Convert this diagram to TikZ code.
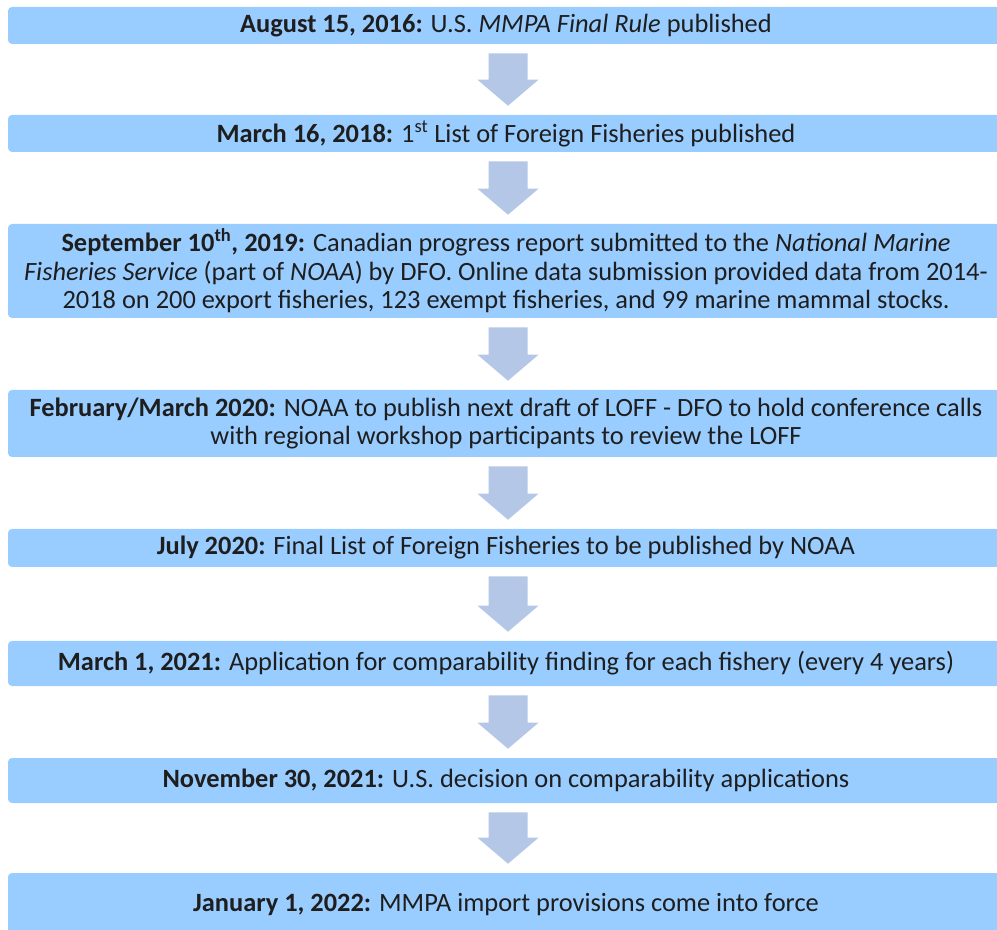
\documentclass[tikz,border=0pt]{standalone}
\usepackage{fontspec}
\setmainfont{Carlito}
\usetikzlibrary{calc}
\definecolor{boxc}{HTML}{99CCFF}
\definecolor{arrc}{HTML}{B4C7E7}
\definecolor{txtc}{HTML}{1E1E1E}
\newcommand\blockarrow[2]{%
  \fill[arrc] ($(#1.south)+(2-19.5,9)$) -- ($(#1.south)+(2+19.5,9)$)
    -- ($(#2.north)+(2+19.5,-35)$) -- ($(#2.north)+(2+30.5,-35)$)
    -- ($(#2.north)+(2,-9)$) -- ($(#2.north)+(2-30.5,-35)$)
    -- ($(#2.north)+(2-19.5,-35)$) -- cycle;}
\begin{document}
\begin{tikzpicture}[x=0.75pt,y=-0.75pt,
  stepbox/.style={fill=boxc, rounded corners=3pt, minimum width=747pt,
    text=txtc, align=center, inner sep=0pt,
    font=\fontsize{19.8}{21.4}\selectfont}]
\useasboundingbox (0,0) rectangle (997,930);
\node[stepbox, minimum height=27.75pt] (b1) at (506,25.5)
  {\textbf{August 15, 2016:} U.S. \textit{MMPA Final Rule} published};
\node[stepbox, minimum height=27.75pt] (b2) at (506,133.5)
  {\textbf{March 16, 2018:} 1\textsuperscript{st} List of Foreign Fisheries published};
\node[stepbox, minimum height=70.5pt] (b3) at (506,271)
  {\textbf{September 10\textsuperscript{th}, 2019:} Canadian progress report submitted to the \textit{National Marine}\\
   \textit{Fisheries Service} (part of \textit{NOAA}) by DFO. Online data submission provided data from 2014-\\
   2018 on 200 export fisheries, 123 exempt fisheries, and 99 marine mammal stocks.};
\node[stepbox, minimum height=50.25pt] (b4) at (506,423.5)
  {\textbf{February/March 2020:} NOAA to publish next draft of LOFF - DFO to hold conference calls\\
   with regional workshop participants to review the LOFF};
\node[stepbox, minimum height=28.5pt] (b5) at (506,548)
  {\textbf{July 2020:} Final List of Foreign Fisheries to be published by NOAA};
\node[stepbox, minimum height=33.75pt] (b6) at (506,663.5)
  {\textbf{March 1, 2021:} Application for comparability finding for each fishery (every 4 years)};
\node[stepbox, minimum height=33.75pt] (b7) at (506,780.5)
  {\textbf{November 30, 2021:} U.S. decision on comparability applications};
\node[stepbox, minimum height=48pt] (b8) at (506,905)
  {\textbf{January 1, 2022:} MMPA import provisions come into force};
\blockarrow{b1}{b2}
\blockarrow{b2}{b3}
\blockarrow{b3}{b4}
\blockarrow{b4}{b5}
\blockarrow{b5}{b6}
\blockarrow{b6}{b7}
\blockarrow{b7}{b8}
\end{tikzpicture}
\end{document}
